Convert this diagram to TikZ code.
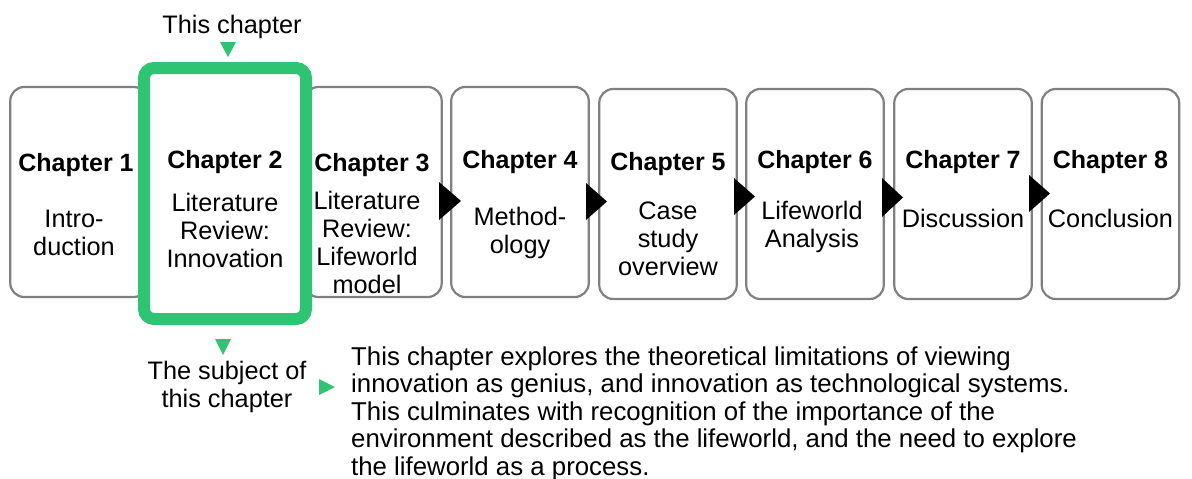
\documentclass[tikz,border=0pt]{standalone}
\usepackage{fontspec}
\setmainfont{Liberation Sans}
\definecolor{chgreen}{RGB}{46,196,116}
\definecolor{boxgray}{RGB}{128,128,128}
\begin{document}
\begin{tikzpicture}[x=1pt,y=-1pt,
  chbox/.style={draw=boxgray, line width=2.2pt, rounded corners=14pt, fill=white,
    minimum width=137.5pt, minimum height=210pt, inner sep=0pt},
  focusbox/.style={draw=chgreen, line width=12pt, rounded corners=10pt, fill=white,
    minimum width=162pt, minimum height=251pt, inner sep=0pt},
  % multi-line nodes sit on the baseline of their last line
  chtitle/.style={anchor=base, font=\fontsize{25}{28}\selectfont\bfseries, inner sep=0pt},
  chbody/.style={anchor=base, align=center, font=\fontsize{25.3}{28}\selectfont, inner sep=0pt},
  note/.style={anchor=base, align=center, font=\fontsize{25.3}{27.5}\selectfont, inner sep=0pt},
  para/.style={anchor=base west, align=left, font=\fontsize{25.8}{27.5}\selectfont, inner sep=0pt},
  flowtip/.style={fill=black},
  greentip/.style={fill=chgreen}
]
\useasboundingbox (0,0) rectangle (1192,479);

% chapter boxes
\node[chbox] (b1) at (79,192) {};
\node[chbox] (b3) at (373,192) {};
\node[chbox] (b4) at (520,192) {};
\node[chbox] (b5) at (668,194) {};
\node[chbox] (b6) at (815,194) {};
\node[chbox] (b7) at (963,194) {};
\node[chbox] (b8) at (1110.5,194) {};

% current chapter, highlighted
\node[focusbox] (b2) at (225,193.5) {};

% flow markers between chapters
\fill[flowtip] (439,182) -- (461,201) -- (439,220) -- cycle;
\fill[flowtip] (586,183) -- (607,201.5) -- (586,220) -- cycle;
\fill[flowtip] (734,178) -- (755,196.5) -- (734,215) -- cycle;
\fill[flowtip] (882,178) -- (903,197.5) -- (882,217) -- cycle;
\fill[flowtip] (1029,175) -- (1050,193.5) -- (1029,212) -- cycle;

% chapter titles
\node[chtitle] (t1) at (76,171) {Chapter 1};
\node[chtitle] (t2) at (225,168) {Chapter 2};
\node[chtitle] (t3) at (372,171) {Chapter 3};
\node[chtitle] (t4) at (520,168) {Chapter 4};
\node[chtitle] (t5) at (668,170) {Chapter 5};
\node[chtitle] (t6) at (815,168) {Chapter 6};
\node[chtitle] (t7) at (963,168) {Chapter 7};
\node[chtitle] (t8) at (1110.5,168) {Chapter 8};

% chapter contents
\node[chbody] (d1) at (74,255) {Intro-\\duction};
\node[chbody] (d2) at (225,267) {Literature\\Review:\\Innovation};
\node[chbody] (d3) at (367,293) {Literature\\Review:\\Lifeworld\\model};
\node[chbody] (d4) at (520,253) {Method-\\ology};
\node[chbody] (d5) at (668,275) {Case\\study\\overview};
\node[chbody] (d6) at (812,247) {Lifeworld\\Analysis};
\node[chbody] (d7) at (963,227) {Discussion};
\node[chbody] (d8) at (1110.5,227) {Conclusion};

% annotations
\node[note] (top) at (232,33) {This chapter};
\fill[greentip] (220,42) -- (236,42) -- (228,57) -- cycle;
\fill[greentip] (215,339) -- (231,339) -- (223,355) -- cycle;
\node[note] (subj) at (227,407) {The subject of\\this chapter};
\fill[greentip] (319,379) -- (335,387) -- (319,395) -- cycle;
\node[para] (desc) at (351,475) {This chapter explores the theoretical limitations of viewing\\
innovation as genius, and innovation as technological systems.\\
This culminates with recognition of the importance of the\\
environment described as the lifeworld, and the need to explore\\
the lifeworld as a process.};
\end{tikzpicture}
\end{document}
